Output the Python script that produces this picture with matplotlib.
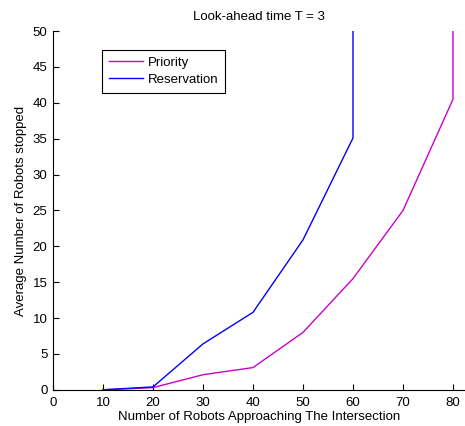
import matplotlib
matplotlib.use('Agg')
import matplotlib.pyplot as plt

robots = [10, 20, 30, 40, 50, 60, 70, 80, 80]
priority = [0, 0.3, 2.1, 3.1, 8.0, 15.5, 25.0, 40.5, 50]
robots_res = [10, 20, 30, 40, 50, 60, 60]
reservation = [0, 0.4, 6.4, 10.8, 20.9, 35.1, 50]

xticks = [0, 10, 20, 30, 40, 50, 60, 70, 80]
yticks = [0, 5, 10, 15, 20, 25, 30, 35, 40, 45, 50]

plt.rcParams['font.family'] = ['Liberation Sans', 'DejaVu Sans']
plt.rcParams['font.size'] = 9.5

fig = plt.figure(figsize=(4.65, 4.26), dpi=100)
ax = fig.add_axes([0.114, 0.085, 0.886, 0.842])

ax.plot(robots, priority, color=(0.8, 0, 0.8), lw=1, label='Priority')
ax.plot(robots_res, reservation, color=(0, 0, 1), lw=1, label='Reservation')

ax.set_xlim(0, 82.4)
ax.set_ylim(0, 50)
ax.set_xticks(xticks)
ax.set_yticks(yticks)
ax.tick_params(direction='in', length=4, width=0.8)
ax.tick_params(axis='x', pad=5)
ax.tick_params(axis='y', pad=4)
ax.spines['top'].set_visible(False)
ax.spines['right'].set_visible(False)

ax.set_title('Look-ahead time T = 3', fontsize=9.5, pad=8)
ax.set_xlabel('Number of Robots Approaching The Intersection', labelpad=1.5)
ax.set_ylabel('Average Number of Robots stopped', labelpad=4)

leg = ax.legend(loc='upper left', bbox_to_anchor=(0.119, 0.948), fancybox=False,
                framealpha=1, edgecolor='black', borderaxespad=0,
                handlelength=2.6, handletextpad=0.4, borderpad=0.5,
                labelspacing=0.4)
leg.get_frame().set_linewidth(0.8)

fig.savefig('out.png', dpi=100)
